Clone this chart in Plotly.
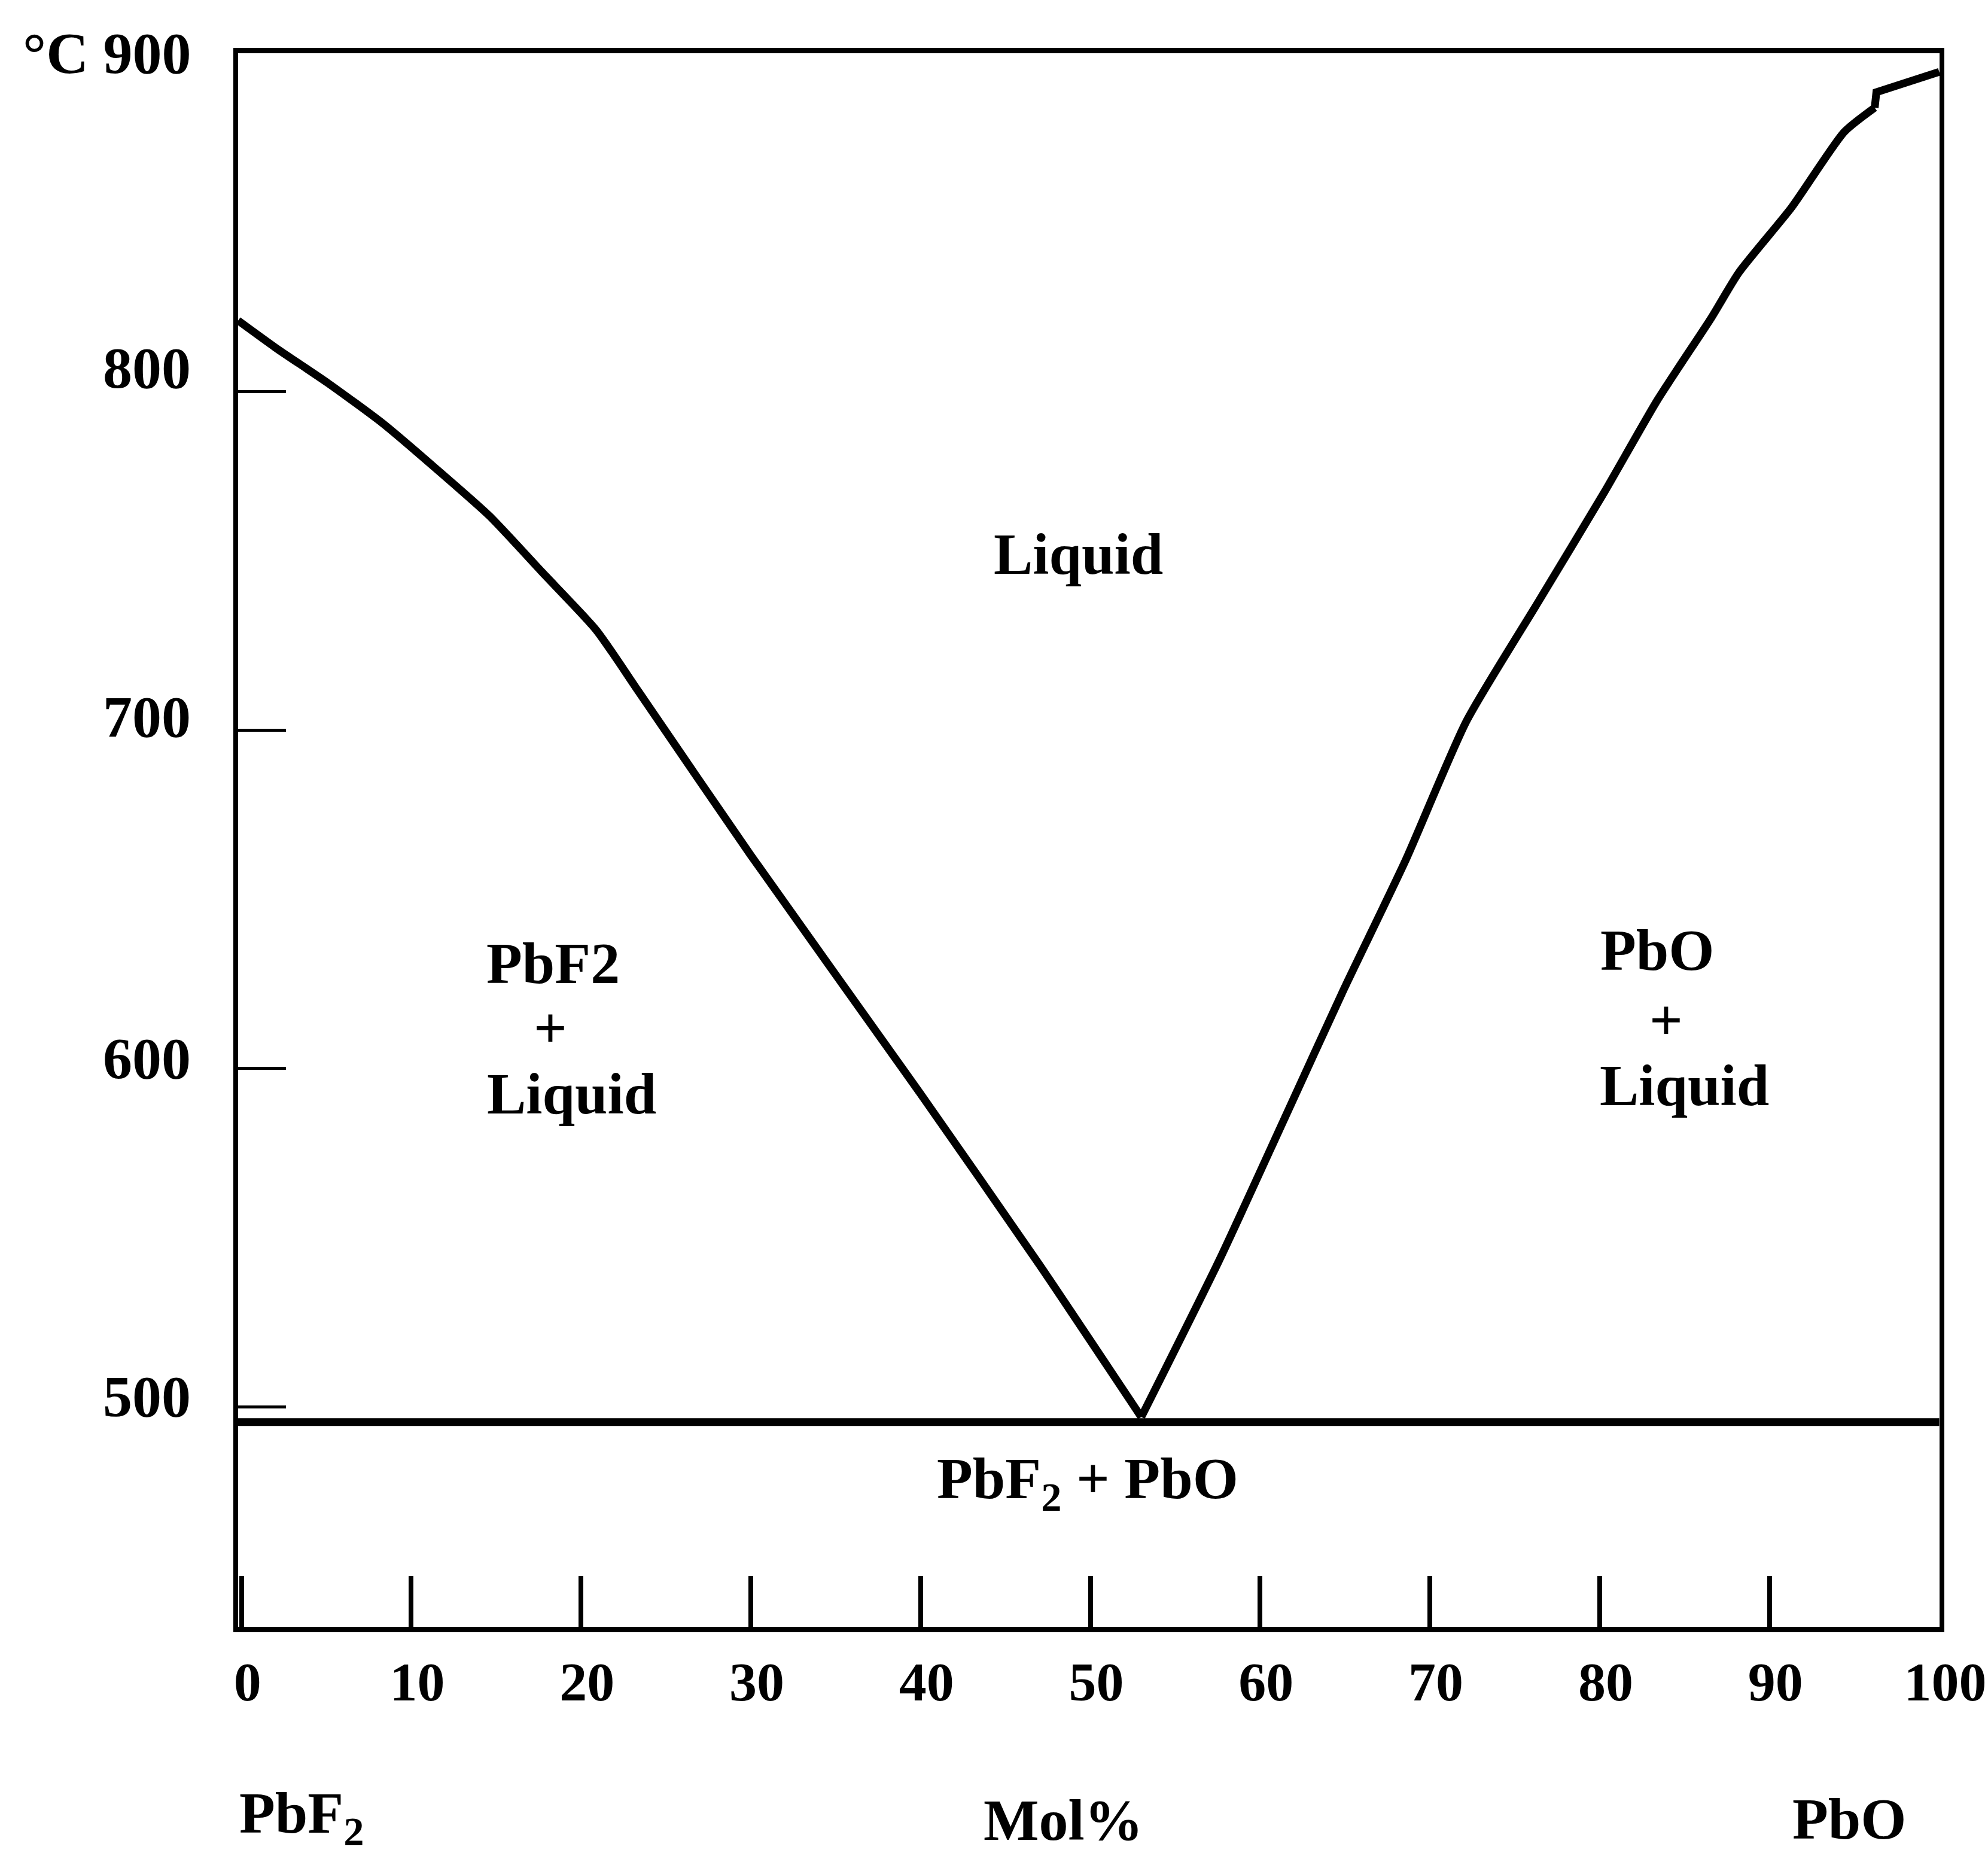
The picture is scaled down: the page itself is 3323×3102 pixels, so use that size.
import plotly.graph_objects as go

# ---- data ----
left_x = [-0.2, 2.0, 5.1, 8.3, 11.4, 14.6, 17.7, 20.9, 23.4, 30.0, 40.0, 47.0, 53.0]
left_y = [821, 813, 802.5, 790.7, 777.5, 763.3, 746.7, 729.5, 711.3, 663, 592.5, 542, 497]

right_x = [53.0, 57.6, 61.4, 64.95, 68.55, 72.15, 76.4, 80.3, 83.4, 86.6, 88.2, 91.3, 94.4, 96.2, 96.3, 100.0]
right_y = [497, 543.4, 584.8, 623.6, 661.3, 702.6, 738, 770.5, 797.5, 822, 835.2, 854.4, 876.7, 883.9, 888.5, 894.5]
step_index = 13  # the small step in the PbO liquidus near 96.3 mol%

eutectic_x = [-0.2, 100]
eutectic_y = [495.5, 495.5]

x_ticks = [0, 10, 20, 30, 40, 50, 60, 70, 80, 90, 100]
x_tick_labels = ["0", "10", "20", "30", "40", "50", "60", "70", "80", "90", "100"]

y_ticks = [800, 700, 600, 500]
y_label_vals = [900, 807, 704, 603, 503]
y_label_text = ["°C 900", "800", "700", "600", "500"]

region_labels = [
    ("Liquid", 49.3, 752),
    ("PbF2", 18.35, 631),
    ("+", 18.2, 612),
    ("Liquid", 19.45, 592.5),
    ("PbO", 83.4, 635),
    ("+", 83.9, 614.2),
    ("Liquid", 85.0, 595),
    ("PbF<sub>2</sub> + PbO", 49.85, 477.5),
]

FONT = "Liberation Serif"
FS = 98

fig = go.Figure()
curve = dict(color="black", width=13)
fig.add_trace(go.Scatter(x=left_x, y=left_y, mode="lines",
                         line=dict(**curve, shape="spline", smoothing=0.6), hoverinfo="skip"))
fig.add_trace(go.Scatter(x=right_x[:step_index + 1], y=right_y[:step_index + 1], mode="lines",
                         line=dict(**curve, shape="spline", smoothing=0.6), hoverinfo="skip"))
fig.add_trace(go.Scatter(x=right_x[step_index:], y=right_y[step_index:], mode="lines",
                         line=curve, hoverinfo="skip"))
fig.add_trace(go.Scatter(x=eutectic_x, y=eutectic_y, mode="lines",
                         line=dict(color="black", width=13), hoverinfo="skip"))

annotations = []
for txt, xv, yv in region_labels:
    annotations.append(dict(x=xv, y=yv, xref="x", yref="y", text=txt, showarrow=False,
                            xanchor="center", yanchor="middle",
                            font=dict(family=FONT, size=FS, color="black", weight="bold")))
for yv, txt in zip(y_label_vals, y_label_text):
    annotations.append(dict(x=-0.027, y=yv, xref="paper", yref="y", text=txt, showarrow=False,
                            xanchor="right", yanchor="middle",
                            font=dict(family=FONT, size=FS, color="black", weight="bold")))
# composition labels under the axis
annotations.append(dict(x=-0.2, y=-0.121, xref="x", yref="paper", text="PbF<sub>2</sub>",
                        showarrow=False, xanchor="left", yanchor="middle",
                        font=dict(family=FONT, size=FS, color="black", weight="bold")))
annotations.append(dict(x=48.4, y=-0.123, xref="x", yref="paper", text="Mol%",
                        showarrow=False, xanchor="center", yanchor="middle",
                        font=dict(family=FONT, size=FS, color="black", weight="bold")))
annotations.append(dict(x=94.7, y=-0.122, xref="x", yref="paper", text="PbO",
                        showarrow=False, xanchor="center", yanchor="middle",
                        font=dict(family=FONT, size=FS, color="black", weight="bold")))

fig.update_layout(
    width=3323, height=3102,
    margin=dict(l=398, r=81, t=89, b=383, pad=0, autoexpand=False),
    paper_bgcolor="white", plot_bgcolor="white",
    showlegend=False,
    annotations=annotations,
    xaxis=dict(range=[-0.2, 100.02], showgrid=False, zeroline=False, automargin=False,
               showline=True, mirror=True, linecolor="black", linewidth=9,
               tickmode="array", tickvals=x_ticks, ticktext=x_tick_labels,
               ticks="inside", ticklen=85, tickwidth=8, tickcolor="black",
               ticklabelshift=10, ticklabelstandoff=4, ticklabeloverflow="allow",
               tickfont=dict(family=FONT, size=92, color="black", weight="bold")),
    yaxis=dict(range=[435, 900], showgrid=False, zeroline=False, automargin=False,
               showline=True, mirror=True, linecolor="black", linewidth=8,
               tickmode="array", tickvals=y_ticks,
               ticks="inside", ticklen=80, tickwidth=5, tickcolor="black",
               showticklabels=False),
)

fig.write_html("out.html")
